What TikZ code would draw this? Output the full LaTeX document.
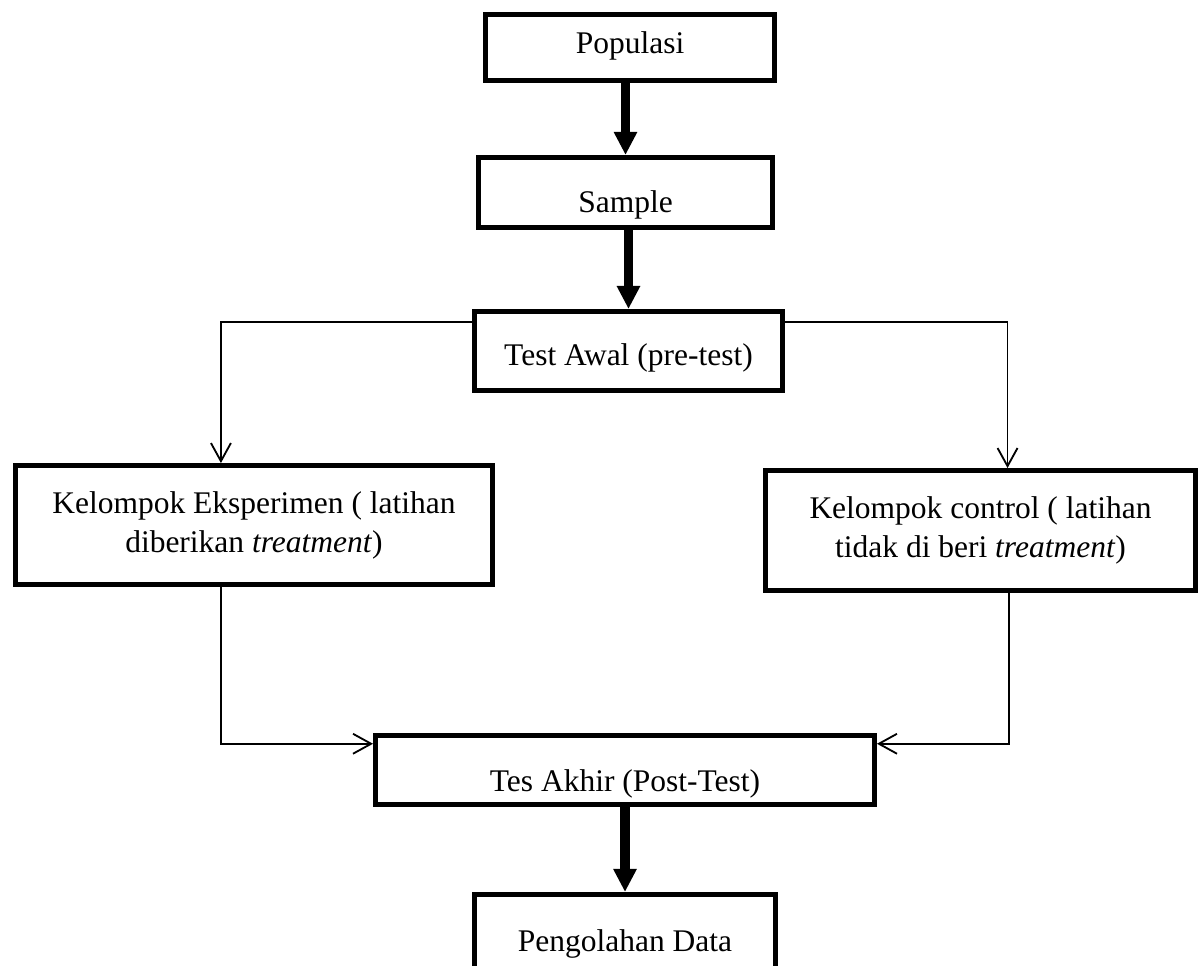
\documentclass[tikz,border=0pt]{standalone}
\usepackage{fontspec}
\setmainfont{Liberation Serif}
\usetikzlibrary{arrows.meta,calc}

\begin{document}
\begin{tikzpicture}[
    x=0.381pt, y=-0.381pt,
    every node/.style={font=\fontsize{12}{14.9}\selectfont},
    boxstyle/.style={rectangle, draw=black, line width=1.9pt, align=center, inner sep=2pt},
    lowtext/.style={text height=#1, text depth=0pt},
    thickarrow/.style={line width=3.8pt, -{Triangle[width=8.4pt,length=8.8pt]}},
    thinarrow/.style={line width=0.7pt, -{Straight Barb[width=7.6pt,length=6.9pt]}}
]
  \useasboundingbox (0,0) rectangle (1200,965);

  % main column
  \node[boxstyle, minimum width=110.1pt, minimum height=25.1pt, lowtext=4.2pt] (pop) at (630,47.5) {Populasi};
  \node[boxstyle, minimum width=112pt, minimum height=26.7pt, lowtext=15.6pt] (samp) at (625.5,192.5) {Sample};
  \node[boxstyle, minimum width=117.3pt, minimum height=30.1pt, lowtext=10.7pt] (pre) at (628.5,351) {Test Awal (pre-test)};

  % groups
  \node[boxstyle, minimum width=181.7pt, minimum height=45.3pt] (eks) at (254,525)
    {Kelompok Eksperimen ( latihan\\diberikan \textit{treatment})};
  \node[boxstyle, minimum width=163.8pt, minimum height=45.7pt] (ctrl) at (980.5,530.5)
    {Kelompok control ( latihan\\tidak di beri \textit{treatment})};

  % end of the flow
  \node[boxstyle, minimum width=190.1pt, minimum height=26.3pt, lowtext=16pt] (post) at (625,770) {Tes Akhir (Post-Test)};
  \node[boxstyle, minimum width=114.7pt, minimum height=34.7pt, lowtext=9.1pt] (olah) at (625,940) {Pengolahan Data};

  % thick arrows
  \draw[thickarrow] (samp.north |- pop.south) -- (samp.north);
  \draw[thickarrow] (pre.north |- samp.south) -- (pre.north);
  \draw[thickarrow] (post.south) -- (olah.north);

  % split to the groups
  \draw[thinarrow] ([yshift=11pt]pre.west) -| ([xshift=-12.6pt]eks.north);
  \draw[thinarrow] ([yshift=11pt]pre.east) -| ([xshift=10.3pt]ctrl.north);

  % join at the post-test
  \draw[thinarrow] ([xshift=-12.6pt]eks.south) |- ([yshift=10pt]post.west);
  \draw[thinarrow] ([xshift=11pt]ctrl.south) |- ([yshift=10pt]post.east);

\end{tikzpicture}
\end{document}
